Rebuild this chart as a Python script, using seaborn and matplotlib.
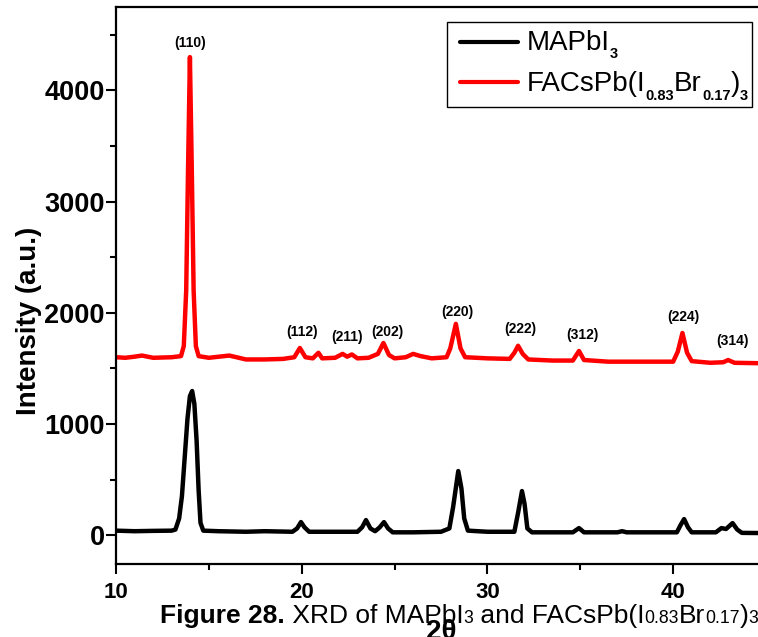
import matplotlib
matplotlib.use("Agg")
import matplotlib.pyplot as plt
import seaborn as sns
import pandas as pd
from matplotlib.patches import Rectangle
from matplotlib.lines import Line2D
from matplotlib.ticker import MultipleLocator

# ---------------- data ----------------
mapbi3_x = [10.0, 11.0, 12.0, 13.0, 13.2, 13.4, 13.55, 13.7, 13.85, 13.98, 14.1, 14.22, 14.34,
            14.45, 14.55, 14.7, 15.5, 17.0, 18.0, 19.5, 19.75, 19.96, 20.15, 20.4, 21.5, 23.0,
            23.25, 23.46, 23.7, 23.95, 24.2, 24.43, 24.65, 24.9, 26.0, 27.5, 27.95, 28.15,
            28.43, 28.6, 28.75, 28.95, 30.0, 31.45, 31.65, 31.86, 32.0, 32.15, 32.4, 34.6,
            34.93, 35.2, 37.0, 37.25, 37.5, 40.2, 40.4, 40.59, 40.8, 41.0, 42.3, 42.6, 42.85,
            43.2, 43.45, 43.7, 45.0]
mapbi3_y = [40, 35, 38, 40, 50, 150, 350, 700, 1050, 1250, 1296, 1180, 850,
            400, 110, 40, 35, 30, 35, 30, 60, 117, 70, 30, 30, 30,
            70, 135, 60, 35, 70, 117, 60, 25, 25, 30, 60, 250,
            576, 420, 150, 40, 30, 30, 200, 396, 280, 60, 25, 25,
            63, 25, 25, 35, 25, 25, 90, 144, 70, 25, 25, 63, 55,
            108, 50, 20, 18]

facs_x = [10.0, 10.5, 11.0, 11.4, 12.0, 13.0, 13.5, 13.65, 13.78, 13.88, 13.98, 14.08, 14.18,
          14.3, 14.45, 15.0, 16.1, 17.0, 18.0, 19.0, 19.6, 19.9, 20.2, 20.6, 20.9, 21.1, 21.8,
          22.2, 22.45, 22.7, 23.0, 23.6, 24.1, 24.4, 24.7, 25.0, 25.6, 26.0, 26.4, 27.0, 27.8,
          28.0, 28.3, 28.55, 28.8, 30.0, 31.2, 31.45, 31.65, 31.9, 32.2, 33.5, 34.6, 34.93,
          35.2, 36.5, 38.0, 40.0, 40.25, 40.5, 40.75, 41.0, 42.0, 42.7, 42.96, 43.3, 45.0]
facs_y = [1600, 1595, 1605, 1615, 1595, 1600, 1610, 1700, 2200, 3300, 4300, 3300, 2200,
          1700, 1610, 1595, 1615, 1580, 1580, 1585, 1600, 1683, 1600, 1590, 1640, 1590, 1595,
          1630, 1605, 1625, 1590, 1595, 1630, 1728, 1620, 1590, 1600, 1630, 1610, 1590, 1600,
          1680, 1900, 1680, 1600, 1590, 1585, 1640, 1703, 1630, 1580, 1570, 1570, 1656,
          1575, 1560, 1560, 1560, 1650, 1818, 1640, 1565, 1550, 1555, 1575, 1550, 1545]

hkl_labels = ["(110)", "(112)", "(211)", "(202)", "(220)", "(222)", "(312)", "(224)", "(314)"]
hkl_x = [13.98, 20.0, 22.44, 24.6, 28.4, 31.75, 35.1, 40.53, 43.2]
hkl_y = [4428, 1827, 1782, 1827, 2007, 1854, 1800, 1962, 1746]

x_ticks = [10, 20, 30, 40]
y_ticks = [0, 1000, 2000, 3000, 4000]

series_colors = ["black", "#ff0000"]

# ---------------- style ----------------
sns.set_style("ticks")
plt.rcParams["font.family"] = ["Liberation Sans", "DejaVu Sans"]
plt.rcParams.update({"text.color": "black", "axes.labelcolor": "black",
                     "xtick.color": "black", "ytick.color": "black",
                     "axes.edgecolor": "black"})

W, H = 758, 637
fig = plt.figure(figsize=(W / 100, H / 100), dpi=100)
ax = fig.add_axes([116 / W, 73 / H, 650 / W, 557.5 / H])

df1 = pd.DataFrame({"x": mapbi3_x, "y": mapbi3_y})
df2 = pd.DataFrame({"x": facs_x, "y": facs_y})
sns.lineplot(data=df1, x="x", y="y", color=series_colors[0], lw=3.2, ax=ax, sort=False)
sns.lineplot(data=df2, x="x", y="y", color=series_colors[1], lw=3.2, ax=ax, sort=False)

for t, xx, yy in zip(hkl_labels, hkl_x, hkl_y):
    ax.text(xx, yy, t, ha="center", va="center", fontsize=10, fontweight="bold")

ax.set_xlim(10, 45)
ax.set_ylim(-260, 4755)
ax.set_xticks(x_ticks)
ax.set_yticks(y_ticks)
ax.xaxis.set_minor_locator(MultipleLocator(5))
ax.yaxis.set_minor_locator(MultipleLocator(500))

for s in ax.spines.values():
    s.set_linewidth(1.6)
    s.set_color("black")
ax.tick_params(axis="both", which="major", direction="out", length=7, width=1.5,
               color="black", labelcolor="black")
ax.tick_params(axis="both", which="minor", direction="out", length=4.5, width=1.5,
               color="black")
ax.tick_params(axis="x", which="major", labelsize=16, pad=6)
ax.tick_params(axis="y", which="major", labelsize=19.5, pad=1)
for lab in ax.get_xticklabels() + ax.get_yticklabels():
    lab.set_fontweight("bold")

ax.set_xlabel("2θ", fontsize=20, fontweight="bold", va="center", color="black")
ax.xaxis.set_label_coords(0.5, -0.122)
ax.set_ylabel("Intensity (a.u.)", fontsize=20, fontweight="bold", va="center", color="black")
ax.yaxis.set_label_coords(-0.134, 0.436)

renderer = fig.canvas.get_renderer()


def text_run(x_px, y_px, parts):
    """Place consecutive text pieces (text, size, weight, drop_px) on a baseline."""
    for s, fs, fw, dy in parts:
        t = fig.text(x_px / W, (H - y_px - dy) / H, s, fontsize=fs, fontweight=fw,
                     ha="left", va="baseline", zorder=5, color="black")
        x_px += t.get_window_extent(renderer).width
    return x_px


# ---------------- legend (drawn by hand for small bold subscripts) ----------------
fig.add_artist(Rectangle((447 / W, 1 - 107 / H), (752 - 447) / W, (107 - 22) / H,
                         transform=fig.transFigure, facecolor="white",
                         edgecolor="black", lw=1.0, zorder=4))
legend_rows = [
    (42, 50, [("MAPbI", 20, "normal", 0), ("3", 10.5, "bold", 8)]),
    (82, 91, [("FACsPb(I", 20, "normal", 0), ("0.83", 10.5, "bold", 9),
              ("Br", 20, "normal", 0), ("0.17", 10.5, "bold", 9),
              (")", 20, "normal", 0), ("3", 10.5, "bold", 9)]),
]
for (ly, by, parts), col in zip(legend_rows, series_colors):
    fig.add_artist(Line2D([460 / W, 518 / W], [1 - ly / H, 1 - ly / H],
                          transform=fig.transFigure, color=col, lw=3, zorder=5))
    text_run(527, by, parts)

# ---------------- caption ----------------
big, small = 19, 12.7
caption_parts = [("Figure 28.", big, "bold", 0), (" XRD of MAPbI", big, "normal", 0),
                 ("3", small, "normal", 0), (" and FACsPb(I", big, "normal", 0),
                 ("0.83", small, "normal", 0), ("Br", big, "normal", 0),
                 ("0.17", small, "normal", 0), (")", big, "normal", 0),
                 ("3", small, "normal", 0)]
text_run(160, 623, caption_parts)

fig.savefig("out.png", dpi=100)
